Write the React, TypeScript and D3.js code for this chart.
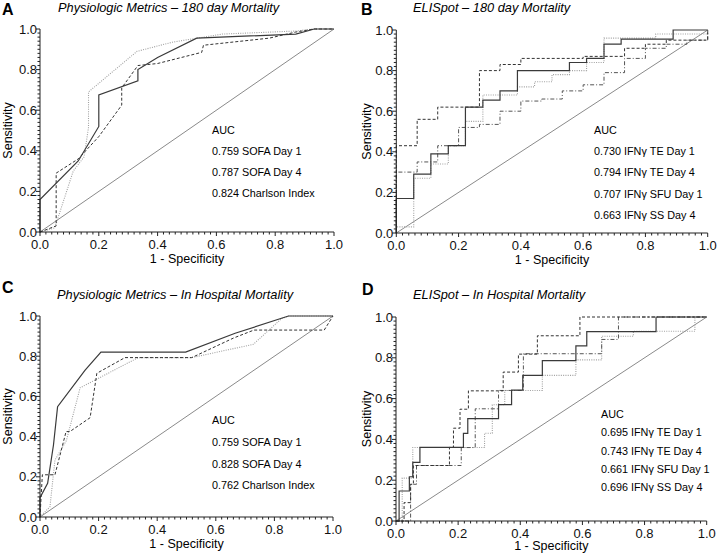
import React from 'react';
import * as d3 from 'd3';

type Pt = [number, number];

// tick labels shared by all four panels
const tickValues = [0, 0.2, 0.4, 0.6, 0.8, 1.0];

// A - physiologic metrics, 180 day mortality
const physio180Sofa1: Pt[] = [[0, 0], [0, 0.16], [0.13, 0.35], [0.2, 0.52], [0.2, 0.675], [0.333, 0.745], [0.333, 0.8], [0.4, 0.86], [0.533, 0.955], [0.87, 0.975], [0.933, 1], [1, 1]];
const physio180Sofa4: Pt[] = [[0, 0], [0.055, 0.03], [0.055, 0.29], [0.13, 0.36], [0.2, 0.47], [0.278, 0.625], [0.278, 0.71], [0.333, 0.82], [0.4, 0.83], [0.55, 0.885], [0.556, 0.92], [0.78, 0.955], [0.87, 0.985], [0.933, 1], [1, 1]];
const physio180Charlson: Pt[] = [[0, 0], [0.05, 0.02], [0.113, 0.3], [0.15, 0.37], [0.165, 0.515], [0.165, 0.69], [0.33, 0.89], [0.45, 0.935], [0.62, 0.975], [0.87, 0.99], [0.93, 1], [1, 1]];
const physio180Auc = ['0.759 SOFA Day 1', '0.787 SOFA Day 4', '0.824 Charlson Index'];

// B - ELISpot, 180 day mortality
const eli180TeDay1: Pt[] = [[0, 0], [0, 0.17], [0.056, 0.17], [0.056, 0.29], [0.111, 0.29], [0.111, 0.39], [0.167, 0.39], [0.167, 0.43], [0.222, 0.43], [0.222, 0.62], [0.278, 0.62], [0.278, 0.655], [0.333, 0.655], [0.333, 0.7], [0.389, 0.7], [0.389, 0.8], [0.556, 0.8], [0.556, 0.84], [0.611, 0.84], [0.611, 0.86], [0.667, 0.86], [0.667, 0.93], [0.722, 0.93], [0.722, 0.955], [0.889, 0.955], [0.889, 1], [1, 1]];
const eli180TeDay4: Pt[] = [[0, 0], [0, 0.43], [0.067, 0.43], [0.067, 0.56], [0.133, 0.56], [0.133, 0.62], [0.267, 0.62], [0.267, 0.8], [0.333, 0.8], [0.333, 0.83], [0.4, 0.83], [0.4, 0.86], [0.6, 0.86], [0.6, 0.87], [0.733, 0.87], [0.733, 0.91], [0.8, 0.91], [0.8, 0.93], [0.867, 0.93], [0.867, 0.95], [1, 0.95], [1, 1]];
const eli180SfuDay1: Pt[] = [[0, 0], [0, 0.03], [0.056, 0.03], [0.056, 0.27], [0.111, 0.27], [0.111, 0.34], [0.167, 0.34], [0.167, 0.43], [0.222, 0.43], [0.222, 0.55], [0.278, 0.55], [0.278, 0.68], [0.389, 0.68], [0.389, 0.72], [0.444, 0.72], [0.444, 0.745], [0.5, 0.745], [0.5, 0.78], [0.556, 0.78], [0.556, 0.8], [0.611, 0.8], [0.611, 0.84], [0.667, 0.84], [0.667, 0.96], [0.833, 0.96], [0.833, 0.98], [1, 0.98], [1, 1]];
const eli180SsDay4: Pt[] = [[0, 0], [0, 0.3], [0.067, 0.3], [0.067, 0.35], [0.133, 0.35], [0.133, 0.43], [0.2, 0.43], [0.2, 0.52], [0.267, 0.52], [0.267, 0.535], [0.333, 0.535], [0.333, 0.6], [0.4, 0.6], [0.4, 0.65], [0.467, 0.65], [0.467, 0.66], [0.533, 0.66], [0.533, 0.7], [0.6, 0.7], [0.6, 0.73], [0.667, 0.73], [0.667, 0.79], [0.733, 0.79], [0.733, 0.86], [0.8, 0.86], [0.8, 0.91], [0.867, 0.91], [0.867, 0.93], [0.933, 0.93], [0.933, 0.95], [1, 0.95], [1, 1]];
const eli180Auc = ['0.730 IFNγ TE Day 1', '0.794 IFNγ TE Day 4', '0.707 IFNγ SFU Day 1', '0.663 IFNγ SS Day 4'];

// C - physiologic metrics, in hospital mortality
const physioHospSofa1: Pt[] = [[0, 0], [0, 0.096], [0.026, 0.168], [0.046, 0.358], [0.06, 0.549], [0.154, 0.731], [0.208, 0.82], [0.497, 0.82], [0.666, 0.914], [0.848, 1], [1, 1]];
const physioHospSofa4: Pt[] = [[0, 0], [0.008, 0.21], [0.051, 0.21], [0.089, 0.425], [0.102, 0.425], [0.171, 0.494], [0.194, 0.715], [0.29, 0.793], [0.518, 0.793], [0.66, 0.89], [0.73, 0.93], [0.97, 0.93], [1, 1]];
const physioHospCharlson: Pt[] = [[0, 0], [0.034, 0.051], [0.051, 0.283], [0.09, 0.38], [0.137, 0.643], [0.21, 0.698], [0.335, 0.793], [0.518, 0.793], [0.728, 0.859], [0.825, 0.988], [0.85, 1], [1, 1]];
const physioHospAuc = ['0.759 SOFA Day 1', '0.828 SOFA Day 4', '0.762 Charlson Index'];

// D - ELISpot, in hospital mortality
const eliHospTeDay1: Pt[] = [[0, 0], [0.01, 0], [0.01, 0.147], [0.043, 0.147], [0.043, 0.217], [0.054, 0.217], [0.054, 0.287], [0.077, 0.287], [0.077, 0.361], [0.217, 0.361], [0.217, 0.43], [0.231, 0.43], [0.231, 0.502], [0.33, 0.502], [0.33, 0.57], [0.372, 0.57], [0.372, 0.642], [0.408, 0.642], [0.408, 0.714], [0.471, 0.714], [0.471, 0.786], [0.579, 0.786], [0.579, 0.858], [0.614, 0.858], [0.614, 0.928], [0.837, 0.928], [0.837, 1], [1, 1]];
const eliHospTeDay4: Pt[] = [[0, 0], [0.026, 0], [0.026, 0.09], [0.047, 0.09], [0.047, 0.18], [0.056, 0.18], [0.056, 0.272], [0.172, 0.272], [0.172, 0.361], [0.185, 0.361], [0.185, 0.455], [0.206, 0.455], [0.206, 0.548], [0.233, 0.548], [0.233, 0.638], [0.345, 0.638], [0.345, 0.73], [0.394, 0.73], [0.394, 0.818], [0.455, 0.818], [0.455, 0.908], [0.592, 0.908], [0.592, 1], [1, 1]];
const eliHospSfuDay1: Pt[] = [[0, 0], [0.02, 0], [0.02, 0.21], [0.054, 0.21], [0.054, 0.36], [0.285, 0.36], [0.285, 0.43], [0.31, 0.43], [0.31, 0.57], [0.35, 0.57], [0.35, 0.64], [0.471, 0.64], [0.471, 0.714], [0.579, 0.714], [0.579, 0.79], [0.662, 0.79], [0.662, 0.906], [0.764, 0.906], [0.764, 0.93], [0.962, 0.93], [0.962, 1], [1, 1]];
const eliHospSsDay4: Pt[] = [[0, 0], [0.047, 0], [0.047, 0.18], [0.066, 0.18], [0.066, 0.272], [0.21, 0.272], [0.21, 0.36], [0.255, 0.36], [0.255, 0.55], [0.33, 0.55], [0.33, 0.64], [0.41, 0.64], [0.41, 0.82], [0.662, 0.82], [0.662, 0.89], [0.716, 0.89], [0.716, 1], [1, 1]];
const eliHospAuc = ['0.695 IFNγ TE Day 1', '0.743 IFNγ TE Day 4', '0.661 IFNγ SFU Day 1', '0.696 IFNγ SS Day 4'];

const FONT = 'Liberation Sans, Arial, Helvetica, sans-serif';

const styles: Record<string, { stroke: string; dash?: string; width: number }> = {
  solid: { stroke: '#3a3a3a', width: 1.2 },
  dashed: { stroke: '#333', dash: '3,2', width: 1 },
  dotted: { stroke: '#a0a0a0', dash: '1,1.3', width: 1.1 },
  dashdot: { stroke: '#555', dash: '4,2,1,2', width: 1 },
};

interface PanelCfg {
  letter: string;
  title: string;
  x0: number; x1: number; y0: number; y1: number;
  letterX: number; letterY: number;
  titleX: number; titleY: number;
  series: { pts: Pt[]; style: string }[];
  auc: string[];
  aucX: number; aucY: number; aucGap: number;
  xLabelDy: number; xTitleDy: number; yTitleX: number;
}

const panels: PanelCfg[] = [
  {
    letter: 'A', title: 'Physiologic Metrics – 180 day Mortality',
    x0: 40, x1: 334, y0: 232, y1: 29, letterX: 2, letterY: 15, titleX: 58, titleY: 12,
    series: [
      { pts: physio180Charlson, style: 'dotted' },
      { pts: physio180Sofa4, style: 'dashed' },
      { pts: physio180Sofa1, style: 'solid' },
    ],
    auc: physio180Auc, aucX: 212, aucY: 134, aucGap: 21,
    xLabelDy: 16.5, xTitleDy: 31, yTitleX: 12,
  },
  {
    letter: 'B', title: 'ELISpot – 180 day Mortality',
    x0: 396.3, x1: 707.7, y0: 233, y1: 30, letterX: 361, letterY: 15, titleX: 413, titleY: 12,
    series: [
      { pts: eli180SfuDay1, style: 'dotted' },
      { pts: eli180SsDay4, style: 'dashdot' },
      { pts: eli180TeDay4, style: 'dashed' },
      { pts: eli180TeDay1, style: 'solid' },
    ],
    auc: eli180Auc, aucX: 594, aucY: 134, aucGap: 21.2,
    xLabelDy: 16.5, xTitleDy: 31, yTitleX: 371,
  },
  {
    letter: 'C', title: 'Physiologic Metrics – In Hospital Mortality',
    x0: 40, x1: 333, y0: 517, y1: 316, letterX: 2, letterY: 293, titleX: 57, titleY: 299,
    series: [
      { pts: physioHospCharlson, style: 'dotted' },
      { pts: physioHospSofa4, style: 'dashed' },
      { pts: physioHospSofa1, style: 'solid' },
    ],
    auc: physioHospAuc, aucX: 212, aucY: 424, aucGap: 21.8,
    xLabelDy: 17, xTitleDy: 31, yTitleX: 12,
  },
  {
    letter: 'D', title: 'ELISpot – In Hospital Mortality',
    x0: 396, x1: 706.7, y0: 521, y1: 317, letterX: 362, letterY: 295, titleX: 413, titleY: 299,
    series: [
      { pts: eliHospSfuDay1, style: 'dotted' },
      { pts: eliHospSsDay4, style: 'dashdot' },
      { pts: eliHospTeDay4, style: 'dashed' },
      { pts: eliHospTeDay1, style: 'solid' },
    ],
    auc: eliHospAuc, aucX: 601, aucY: 418, aucGap: 18.3,
    xLabelDy: 16.5, xTitleDy: 29, yTitleX: 371,
  },
];

const Panel = ({ cfg }: { cfg: PanelCfg }) => {
  const x = d3.scaleLinear().domain([0, 1]).range([cfg.x0, cfg.x1]);
  const y = d3.scaleLinear().domain([0, 1]).range([cfg.y0, cfg.y1]);
  const line = d3.line<Pt>().x(d => x(d[0])).y(d => y(d[1]));
  const minor = d3.range(0, 51).map(i => i / 50);

  return (
    <g fontFamily={FONT}>
      <text x={cfg.letterX} y={cfg.letterY} fontSize={16} fontWeight="bold">{cfg.letter}</text>
      <text x={cfg.titleX} y={cfg.titleY} fontSize={12.8} fontStyle="italic">{cfg.title}</text>

      {/* diagonal reference */}
      <path d={line([[0, 0], [1, 1]]) || ''} stroke="#8a8a8a" strokeWidth={1} fill="none" />

      {cfg.series.map((s, i) => {
        const st = styles[s.style];
        return (
          <path key={i} d={line(s.pts) || ''} fill="none" stroke={st.stroke}
            strokeWidth={st.width} strokeDasharray={st.dash} />
        );
      })}

      {/* axes */}
      <g stroke="#222" strokeWidth={1}>
        <line x1={cfg.x0} x2={cfg.x0} y1={y(0) + 0.5} y2={y(1)} />
        <line x1={cfg.x0 - 0.5} x2={cfg.x1} y1={cfg.y0} y2={cfg.y0} />
        {minor.map((v, i) => (
          <g key={i}>
            <line x1={x(v)} x2={x(v)} y1={cfg.y0} y2={cfg.y0 + (i % 10 === 0 ? 4 : 2.5)} />
            <line x1={cfg.x0} x2={cfg.x0 - (i % 10 === 0 ? 4 : 2.5)} y1={y(v)} y2={y(v)} />
          </g>
        ))}
      </g>

      {tickValues.map(v => (
        <text key={'x' + v} x={x(v)} y={cfg.y0 + cfg.xLabelDy} fontSize={13} textAnchor="middle" fill="#111">
          {d3.format('.1f')(v)}
        </text>
      ))}
      {tickValues.map(v => (
        <text key={'y' + v} x={cfg.x0 - 3} y={y(v) + 4.5} fontSize={13} textAnchor="end" fill="#111">
          {d3.format('.1f')(v)}
        </text>
      ))}

      <text x={(cfg.x0 + cfg.x1) / 2} y={cfg.y0 + cfg.xTitleDy} fontSize={12.5} textAnchor="middle">1 - Specificity</text>
      <text transform={`translate(${cfg.yTitleX},${(cfg.y0 + cfg.y1) / 2}) rotate(-90)`} fontSize={12.5} textAnchor="middle">Sensitivity</text>

      <text x={cfg.aucX} y={cfg.aucY} fontSize={10.8}>AUC</text>
      {cfg.auc.map((t, i) => (
        <text key={t} x={cfg.aucX} y={cfg.aucY + cfg.aucGap * (i + 1)} fontSize={10.8}>{t}</text>
      ))}
    </g>
  );
};

const App = () => {
  return (
    <svg width={722} height={554} style={{ position: 'absolute', left: 0, top: 0, background: '#fff' }}>
      <rect width={722} height={554} fill="#fff" />
      {panels.map(p => <Panel key={p.letter} cfg={p} />)}
    </svg>
  );
};

export default App;
